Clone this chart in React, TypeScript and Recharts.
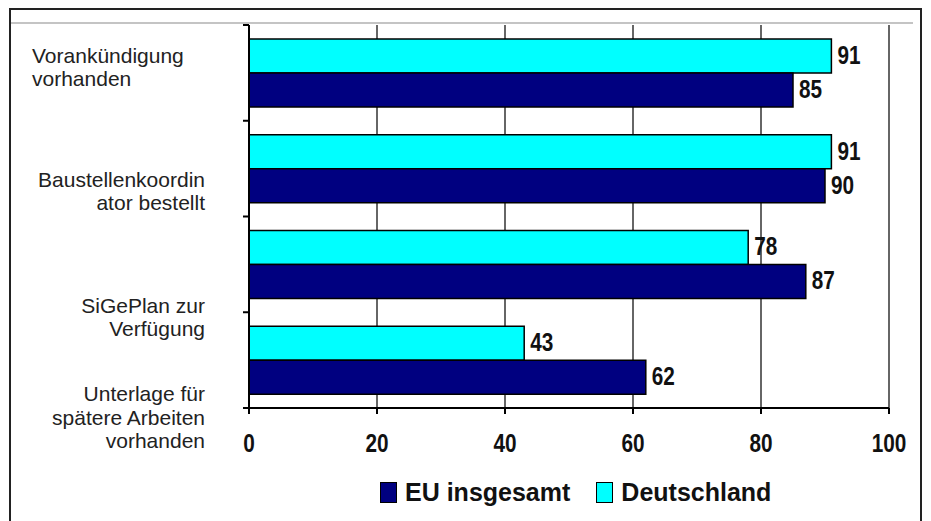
import React from "react";
import { BarChart, Bar, XAxis, YAxis, CartesianGrid, LabelList, Legend } from "recharts";

const categories = [
  "Vorankündigung\nvorhanden",
  "Baustellenkoordin\nator bestellt",
  "SiGePlan zur\nVerfügung",
  "Unterlage für\nspätere Arbeiten\nvorhanden",
];
const deutschland = [91, 91, 78, 43];
const euInsgesamt = [85, 90, 87, 62];
const xTicks = [0, 20, 40, 60, 80, 100];
const seriesNames = { eu: "EU insgesamt", de: "Deutschland" };

const data = categories.map((name, i) => ({
  name,
  de: deutschland[i],
  eu: euInsgesamt[i],
}));

const NAVY = "#000080";
const CYAN = "#00FFFF";
const SANS = "'Liberation Sans', Arial, sans-serif";
const NUM_SCALE = 0.83;

// label layout per category (style only)
const labelLayout = [
  { anchor: "start", dx: -217, dy: -10 },
  { anchor: "end", dx: -44, dy: 18 },
  { anchor: "end", dx: -44, dy: 48.5 },
  { anchor: "end", dx: -44, dy: 41 },
];

const YTick = (props: any) => {
  const { x, y, payload, index } = props;
  const half = payload && payload.offset ? payload.offset : 47.9;
  const lay = labelLayout[index] || labelLayout[0];
  const lines = String(payload.value).split("\n");
  return (
    <g>
      <line x1={x - 6} x2={x} y1={y - half} y2={y - half} stroke="#000" strokeWidth={2} />
      {index === categories.length - 1 && (
        <line x1={x - 6} x2={x} y1={y + half} y2={y + half} stroke="#000" strokeWidth={2} />
      )}
      <text
        x={x + lay.dx}
        y={y + lay.dy}
        textAnchor={lay.anchor as any}
        fontFamily={SANS}
        fontSize={21}
        fill="#222"
      >
        {lines.map((l, i) => (
          <tspan key={i} x={x + lay.dx} dy={i === 0 ? 0 : 23.5}>
            {l}
          </tspan>
        ))}
      </text>
    </g>
  );
};

const XTick = (props: any) => {
  const { x, y, payload } = props;
  return (
    <text
      transform={`translate(${x},${y}) scale(${NUM_SCALE},1)`}
      textAnchor="middle"
      dy="0.71em"
      fontFamily={SANS}
      fontWeight="bold"
      fontSize={25}
      fill="#111"
    >
      {payload.value}
    </text>
  );
};

const BarValue = (props: any) => {
  const { x, y, width, height, value } = props;
  const tx = Number(x) + Number(width) + 6;
  const ty = Number(y) + Number(height) / 2 - 1;
  return (
    <text
      transform={`translate(${tx},${ty}) scale(${NUM_SCALE},1)`}
      textAnchor="start"
      dy="0.355em"
      fontFamily={SANS}
      fontWeight="bold"
      fontSize={25}
      fill="#111"
    >
      {value}
    </text>
  );
};

const legendItems = [
  { key: "eu", label: seriesNames.eu, color: NAVY },
  { key: "de", label: seriesNames.de, color: CYAN },
];

const LegendContent = () => (
  <div style={{ display: "flex", alignItems: "center", paddingLeft: 380 }}>
    {legendItems.map((it, i) => (
      <div key={it.key} style={{ display: "flex", alignItems: "center", marginLeft: i === 0 ? 0 : 26 }}>
        <div
          style={{
            width: 15,
            height: 19,
            background: it.color,
            border: "1.5px solid #000",
            marginRight: 8,
          }}
        />
        <span style={{ fontFamily: SANS, fontWeight: "bold", fontSize: 25, color: "#111", lineHeight: "28px" }}>
          {it.label}
        </span>
      </div>
    ))}
  </div>
);

export default function App() {
  return (
    <div style={{ position: "absolute", left: 0, top: 0, width: 931, height: 521, background: "#fff", overflow: "hidden" }}>
      <div
        style={{
          position: "absolute",
          left: 9,
          top: 8,
          width: 913,
          height: 530,
          border: "2px solid #222",
          boxSizing: "border-box",
        }}
      />
      <div style={{ position: "absolute", left: 11, top: 22, width: 902, height: 2, background: "#c4c4c4" }} />
      <div style={{ position: "absolute", left: 0, top: 0 }}>
        <BarChart
          width={931}
          height={521}
          data={data}
          layout="vertical"
          margin={{ top: 25, right: 42, left: 0, bottom: 73 }}
          barSize={34}
          barGap={0}
        >
          <CartesianGrid horizontal={false} vertical={true} stroke="#333" strokeWidth={1.5} />
          <XAxis
            type="number"
            domain={[0, 100]}
            ticks={xTicks}
            height={40}
            axisLine={{ stroke: "#000", strokeWidth: 2 }}
            tickLine={{ stroke: "#000", strokeWidth: 2 }}
            tickSize={6}
            tickMargin={20}
            tick={<XTick />}
          />
          <YAxis
            type="category"
            dataKey="name"
            width={249}
            axisLine={{ stroke: "#000", strokeWidth: 2 }}
            tickLine={false}
            tickSize={0}
            tickMargin={0}
            tick={<YTick />}
            interval={0}
          />
          <Legend
            layout="vertical"
            align="center"
            verticalAlign="middle"
            wrapperStyle={{ position: "absolute", top: 478, left: 0, width: 931 }}
            content={<LegendContent />}
          />
          <Bar dataKey="de" name={seriesNames.de} fill={CYAN} stroke="#000" strokeWidth={1.5} isAnimationActive={false}>
            <LabelList dataKey="de" content={<BarValue />} />
          </Bar>
          <Bar dataKey="eu" name={seriesNames.eu} fill={NAVY} stroke="#000" strokeWidth={1.5} isAnimationActive={false}>
            <LabelList dataKey="eu" content={<BarValue />} />
          </Bar>
        </BarChart>
      </div>
    </div>
  );
}
